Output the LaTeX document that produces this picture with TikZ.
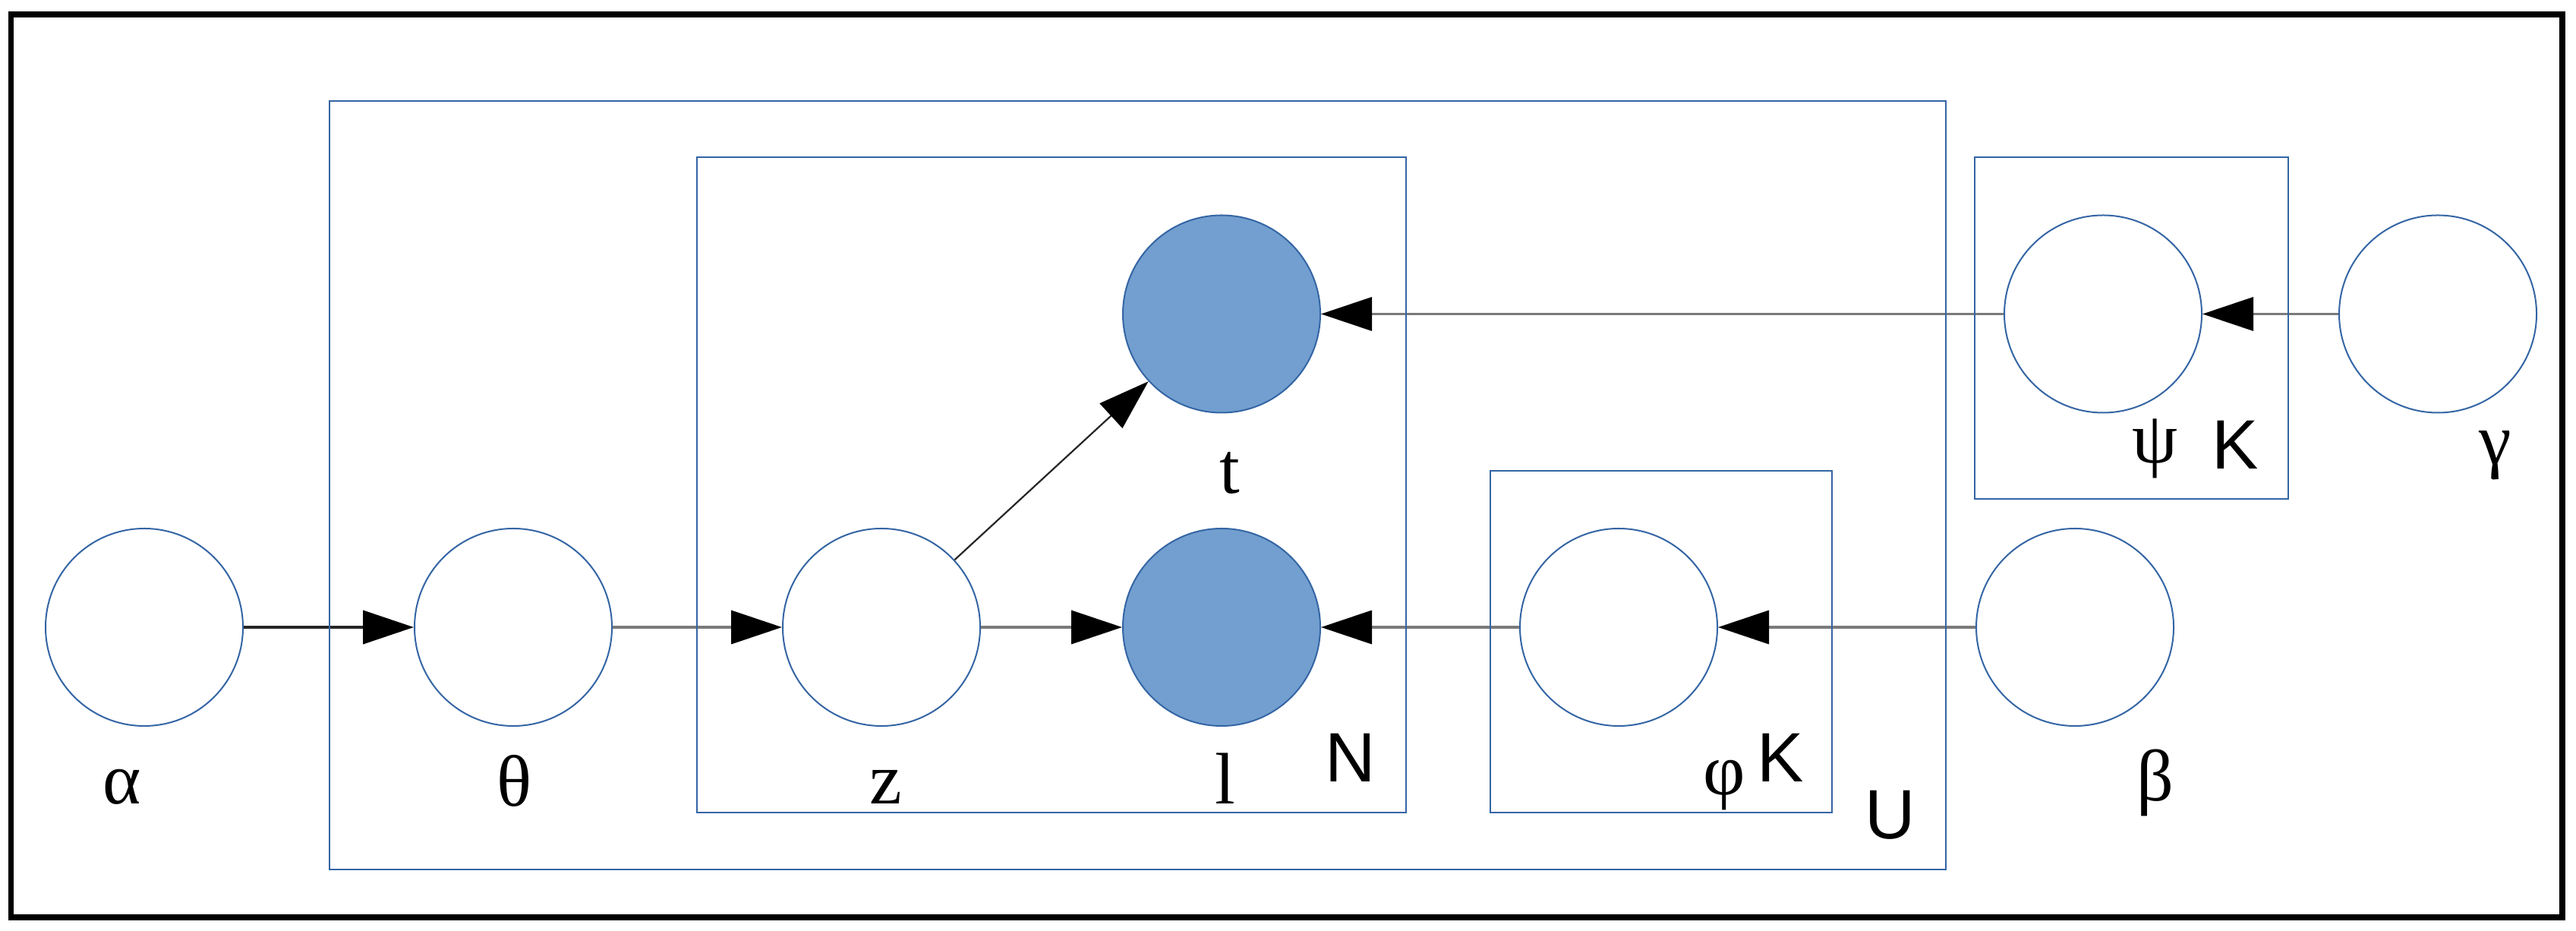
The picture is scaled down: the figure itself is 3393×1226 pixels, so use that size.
\documentclass[tikz,border=0pt]{standalone}
\usepackage{fontspec}
\setmainfont{Liberation Serif}
\newfontfamily\sansf{Liberation Sans}
\usetikzlibrary{arrows.meta}
\definecolor{loblue}{HTML}{3465A4}
\definecolor{lofill}{HTML}{729FCF}
\definecolor{edgegray}{HTML}{7A7A7A}
\begin{document}
\begin{tikzpicture}[x=0.25pt,y=-0.25pt,
  var/.style={circle, draw=loblue, line width=0.5pt, minimum size=65pt, inner sep=0pt},
  obs/.style={var, fill=lofill},
  plate/.style={draw=loblue, line width=0.65pt},
  lbl/.style={anchor=base, inner sep=0pt, font=\fontsize{24}{28}\selectfont},
  slbl/.style={anchor=base, inner sep=0pt, font=\sansf\fontsize{23}{27}\selectfont},
  tipstyle/.style={-{Triangle[length=16.75pt,width=11pt,color=black]}},
  edge/.style={tipstyle, draw=edgegray, line width=0.9pt},
  darkedge/.style={tipstyle, draw=black!85, line width=1pt},
  thinedge/.style={tipstyle, draw=black!85, line width=0.55pt},
]
\useasboundingbox (0,0) rectangle (3393,1226);
\draw[line width=1.8pt] (14.5,19) rectangle (3375,1208);

% variables
\node[var] (alpha) at (190,826) {};
\node[var] (theta) at (676,826) {};
\node[var] (z) at (1161,826) {};
\node[obs] (l) at (1609,826) {};
\node[obs] (t) at (1609,413.5) {};
\node[var] (phi) at (2132,826) {};
\node[var] (beta) at (2733,826) {};
\node[var] (psi) at (2770,413.5) {};
\node[var] (gamma) at (3211,413.5) {};

% edges
\draw[darkedge] (alpha) -- (theta);
\draw[edge] (theta) -- (z);
\draw[edge] (z) -- (l);
\draw[thinedge] (z) -- (t);
\draw[edge] (phi) -- (l);
\draw[edge] (beta) -- (phi);
\draw[edge] (psi) -- (t);
\draw[edge] (gamma) -- (psi);

% plates
\draw[plate] (434,133) rectangle (2563,1145);
\draw[plate] (918,207) rectangle (1852,1070);
\draw[plate] (1963,620) rectangle (2413,1070);
\draw[plate] (2601,207) rectangle (3014,657);

% labels
\node[lbl] (lalpha) at (161,1059) {α};
\node[lbl] (ltheta) at (677,1062) {θ};
\node[lbl] (lz) at (1167,1059) {z};
\node[lbl] (ll) at (1614,1059) {l};
\node[lbl] (lt) at (1620,650) {t};
\node[slbl] (lN) at (1779,1030) {N};
\node[lbl] (lphi) at (2271,1047) {φ};
\node[slbl] (lK1) at (2345,1030) {K};
\node[slbl] (lU) at (2490,1105) {U};
\node[lbl] (lbeta) at (2839,1055) {β};
\node[lbl] (lpsi) at (2839,610) {ψ};
\node[slbl] (lK2) at (2944,618) {K};
\node[lbl] (lgamma) at (3287,612) {γ};
\end{tikzpicture}
\end{document}
